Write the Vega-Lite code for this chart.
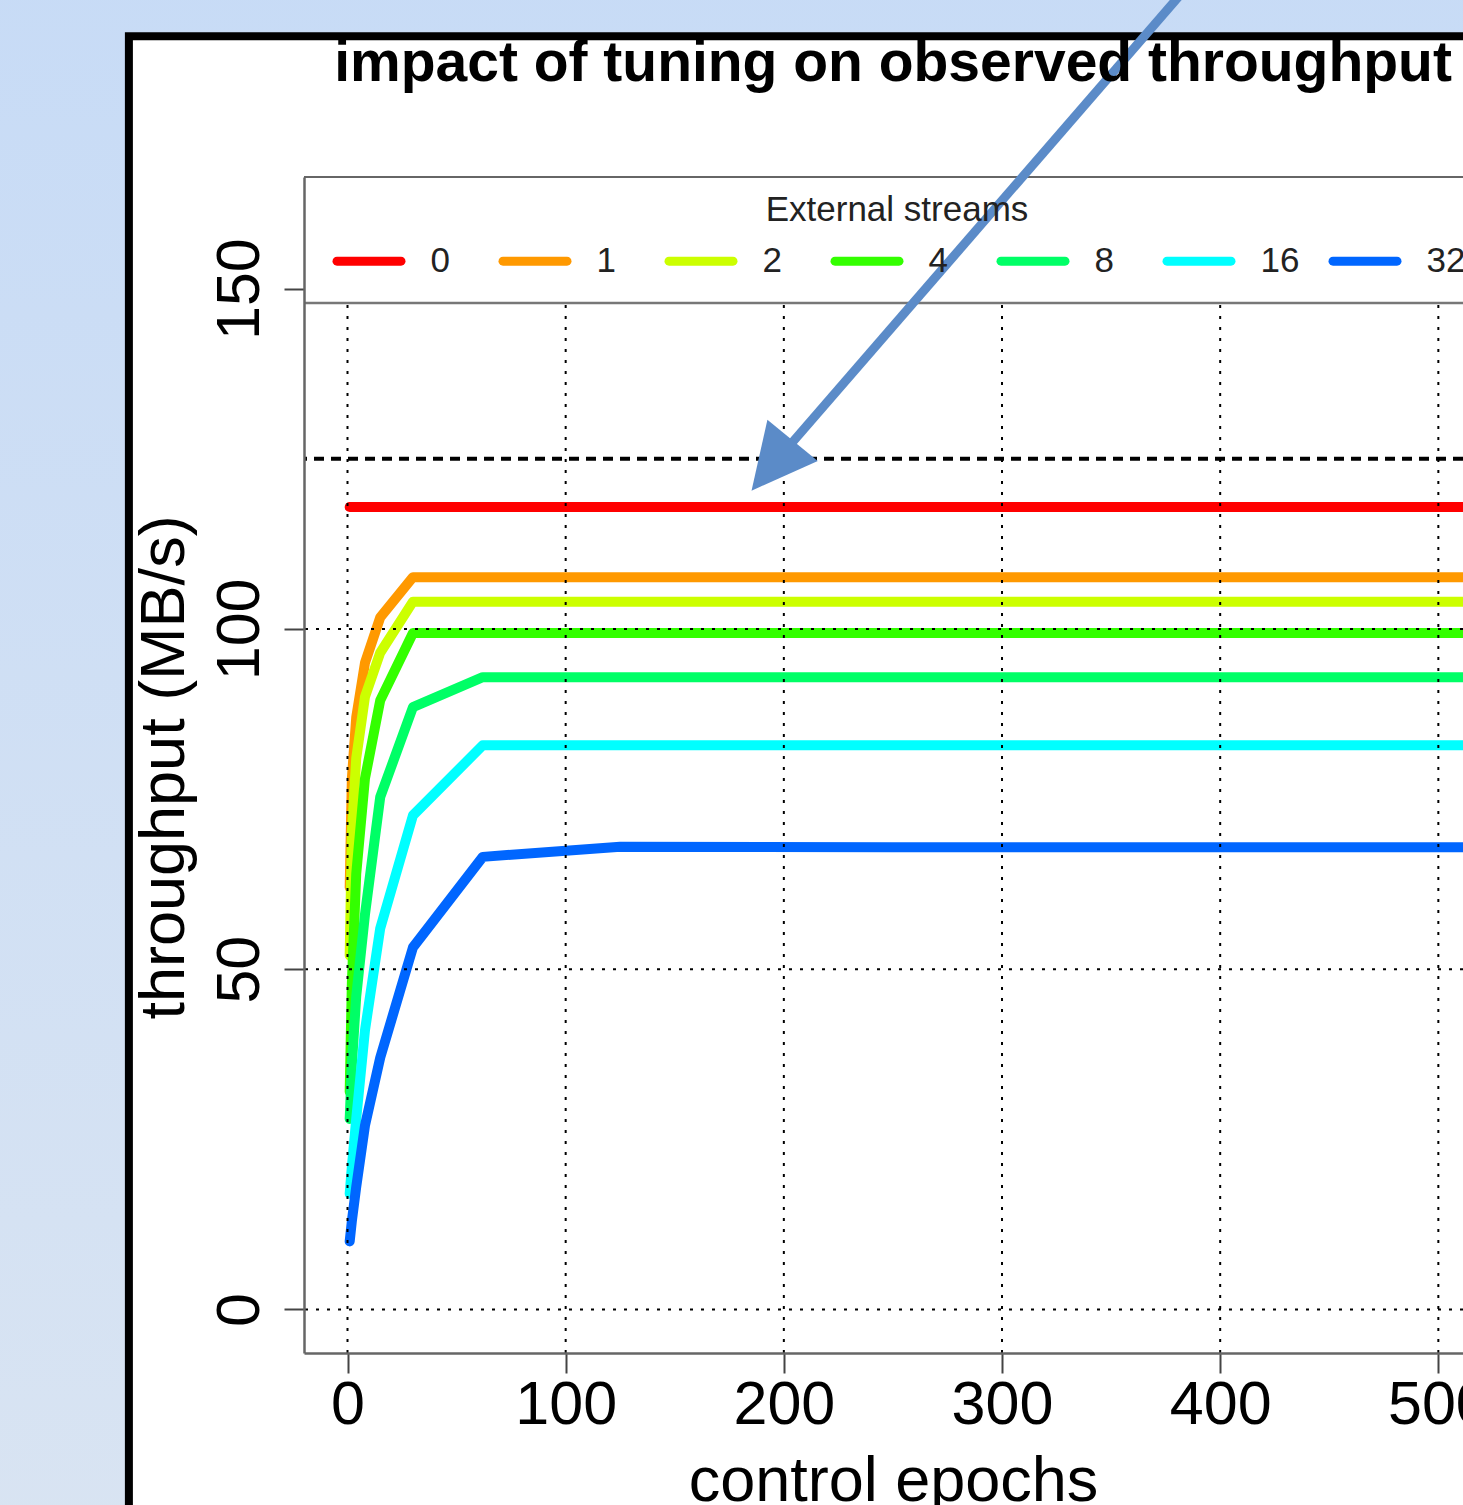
{
  "$schema": "https://vega.github.io/schema/vega-lite/v6.json",
  "width": 1159,
  "height": 1176,
  "autosize": {"type": "none"},
  "padding": {"left": 304, "top": 177, "right": 0, "bottom": 152},
  "background": "#CCDEF5",
  "config": {"view": {"stroke": null, "fill": null}, "font": "Liberation Sans"},
  "title": {
    "text": "impact of tuning on observed throughput",
    "anchor": "middle",
    "frame": "group",
    "font": "Liberation Sans",
    "fontSize": 57,
    "fontWeight": "bold",
    "color": "#000000",
    "baseline": "alphabetic",
    "offset": -189.7,
    "dx": 9.5,
    "limit": 2000
  },
  "datasets": {
    "lines": [
      {"s": 0, "e": 1, "t": 117.9}, {"s": 0, "e": 2, "t": 117.9}, {"s": 0, "e": 4, "t": 117.9}, {"s": 0, "e": 8, "t": 117.9}, {"s": 0, "e": 15, "t": 117.9}, {"s": 0, "e": 30, "t": 117.9}, {"s": 0, "e": 62, "t": 117.9}, {"s": 0, "e": 125, "t": 117.9}, {"s": 0, "e": 250, "t": 117.9}, {"s": 0, "e": 512, "t": 117.9},
      {"s": 1, "e": 1, "t": 62}, {"s": 1, "e": 2, "t": 78}, {"s": 1, "e": 4, "t": 87}, {"s": 1, "e": 8, "t": 95}, {"s": 1, "e": 15, "t": 101.7}, {"s": 1, "e": 30, "t": 107.6}, {"s": 1, "e": 62, "t": 107.6}, {"s": 1, "e": 125, "t": 107.6}, {"s": 1, "e": 250, "t": 107.6}, {"s": 1, "e": 512, "t": 107.6},
      {"s": 2, "e": 1, "t": 52}, {"s": 2, "e": 2, "t": 70}, {"s": 2, "e": 4, "t": 81}, {"s": 2, "e": 8, "t": 90}, {"s": 2, "e": 15, "t": 96.5}, {"s": 2, "e": 30, "t": 104.0}, {"s": 2, "e": 62, "t": 104.0}, {"s": 2, "e": 125, "t": 104.0}, {"s": 2, "e": 250, "t": 104.0}, {"s": 2, "e": 512, "t": 104.0},
      {"s": 4, "e": 1, "t": 32}, {"s": 4, "e": 2, "t": 48}, {"s": 4, "e": 4, "t": 64}, {"s": 4, "e": 8, "t": 78}, {"s": 4, "e": 15, "t": 89.5}, {"s": 4, "e": 30, "t": 99.4}, {"s": 4, "e": 62, "t": 99.4}, {"s": 4, "e": 125, "t": 99.4}, {"s": 4, "e": 250, "t": 99.4}, {"s": 4, "e": 512, "t": 99.4},
      {"s": 8, "e": 1, "t": 28}, {"s": 8, "e": 2, "t": 36}, {"s": 8, "e": 4, "t": 46}, {"s": 8, "e": 8, "t": 58}, {"s": 8, "e": 15, "t": 75.3}, {"s": 8, "e": 30, "t": 88.5}, {"s": 8, "e": 62, "t": 92.9}, {"s": 8, "e": 125, "t": 92.9}, {"s": 8, "e": 250, "t": 92.9}, {"s": 8, "e": 512, "t": 92.9},
      {"s": 16, "e": 1, "t": 17}, {"s": 16, "e": 2, "t": 21}, {"s": 16, "e": 4, "t": 28}, {"s": 16, "e": 8, "t": 41}, {"s": 16, "e": 15, "t": 56}, {"s": 16, "e": 30, "t": 72.6}, {"s": 16, "e": 62, "t": 82.9}, {"s": 16, "e": 125, "t": 82.9}, {"s": 16, "e": 250, "t": 82.9}, {"s": 16, "e": 512, "t": 82.9},
      {"s": 32, "e": 1, "t": 10}, {"s": 32, "e": 2, "t": 13}, {"s": 32, "e": 4, "t": 18}, {"s": 32, "e": 8, "t": 27}, {"s": 32, "e": 15, "t": 37}, {"s": 32, "e": 30, "t": 53.2}, {"s": 32, "e": 62, "t": 66.5}, {"s": 32, "e": 125, "t": 68.0}, {"s": 32, "e": 250, "t": 67.9}, {"s": 32, "e": 512, "t": 67.9}
    ],
    "vgrid": [{"g": 0}, {"g": 100}, {"g": 200}, {"g": 300}, {"g": 400}, {"g": 500}],
    "hgrid": [{"h": 0}, {"h": 50}, {"h": 100}]
  },
  "layer": [
    {
      "data": {"values": [{}]},
      "mark": {"type": "rect", "clip": false, "color": {"gradient": "linear", "x1": 0, "y1": 0, "x2": 0, "y2": 1, "stops": [{"offset": 0, "color": "#C7DBF6"}, {"offset": 1, "color": "#D9E4F2"}]}},
      "encoding": {
        "x": {"datum": -200, "type": "quantitative", "scale": {"domain": [-19.94, 511.3], "nice": false, "zero": false}},
        "x2": {"datum": 700},
        "y": {"datum": -40, "type": "quantitative", "scale": {"domain": [-6.4, 166.4], "nice": false, "zero": false}},
        "y2": {"datum": 200}
      }
    },
    {
      "data": {"values": [{}]},
      "mark": {"type": "rect", "clip": false, "fill": "#FFFFFF", "stroke": "#000000", "strokeWidth": 8},
      "encoding": {
        "x": {"datum": -100.2, "type": "quantitative", "scale": {"domain": [-19.94, 511.3], "nice": false, "zero": false}},
        "x2": {"datum": 700},
        "y": {"datum": -40, "type": "quantitative", "scale": {"domain": [-6.4, 166.4], "nice": false, "zero": false}},
        "y2": {"datum": 187.1}
      }
    },
    {
      "data": {"name": "lines"},
      "mark": {"type": "line", "clip": true, "strokeWidth": 10, "strokeCap": "round", "strokeJoin": "round"},
      "encoding": {
        "x": {
          "field": "e", "type": "quantitative",
          "scale": {"domain": [-19.94, 511.3], "nice": false, "zero": false},
          "axis": {
            "title": "control epochs", "values": [0, 100, 200, 300, 400, 500], "grid": false, "zindex": 1,
            "labelFont": "Liberation Sans", "labelFontSize": 61, "labelColor": "#000000", "labelBaseline": "alphabetic", "labelPadding": 50, "labelFlush": false, "labelOverlap": false,
            "tickSize": 20, "tickWidth": 2, "tickColor": "#444444", "domainColor": "#666666", "domainWidth": 2.5,
            "titleFont": "Liberation Sans", "titleFontSize": 63, "titleFontWeight": "normal", "titleColor": "#000000", "titleBaseline": "alphabetic", "titleX": 589, "titleY": 147, "titleAlign": "center", "titleLimit": 2000
          }
        },
        "y": {
          "field": "t", "type": "quantitative",
          "scale": {"domain": [-6.4, 166.4], "nice": false, "zero": false},
          "axis": {
            "title": "throughput (MB/s)", "values": [0, 50, 100, 150], "grid": false, "zindex": 1,
            "labelFont": "Liberation Sans", "labelFontSize": 61, "labelColor": "#000000", "labelAngle": 270, "labelAlign": "center", "labelBaseline": "alphabetic", "labelPadding": 26, "labelFlush": false, "labelOverlap": false,
            "tickSize": 20, "tickWidth": 2, "tickColor": "#444444", "domainColor": "#666666", "domainWidth": 2.5,
            "titleFont": "Liberation Sans", "titleFontSize": 63, "titleFontWeight": "normal", "titleColor": "#000000", "titleAngle": 270, "titleBaseline": "alphabetic", "titleAlign": "center", "titleX": -121, "titleY": 590, "titleLimit": 2000
          }
        },
        "color": {
          "field": "s", "type": "ordinal",
          "scale": {"domain": [0, 1, 2, 4, 8, 16, 32], "range": ["#FF0000", "#FF9900", "#CCFF00", "#33FF00", "#00FF66", "#00FFFF", "#0066FF"]},
          "legend": {
            "title": "External streams",
            "orient": "none", "legendX": 24, "legendY": 16.4,
            "direction": "horizontal", "columns": 7, "gridAlign": "all",
            "padding": 0, "columnPadding": 15,
            "titleOrient": "top", "titleAnchor": "middle", "titleFont": "Liberation Sans", "titleFontSize": 35, "titleFontWeight": "normal", "titleColor": "#222222", "titlePadding": 8, "titleBaseline": "top", "titleLimit": 2000,
            "labelFont": "Liberation Sans", "labelFontSize": 35, "labelColor": "#222222", "labelOffset": 37, "labelBaseline": "middle", "labelLimit": 500,
            "symbolType": "M-1.6,0H1.6", "symbolSize": 1600, "symbolStrokeWidth": 9, "symbolOffset": 16.5,
            "encode": {"symbols": {"update": {"strokeCap": {"value": "round"}}}}
          }
        }
      }
    },
    {
      "data": {"values": [{}]},
      "mark": {"type": "rule", "color": "#000000", "strokeWidth": 4, "strokeDash": [10, 7]},
      "encoding": {
        "y": {"datum": 125, "type": "quantitative", "scale": {"domain": [-6.4, 166.4], "nice": false, "zero": false}}
      }
    },
    {
      "data": {"name": "vgrid"},
      "mark": {"type": "rule", "color": "#000000", "strokeWidth": 2, "strokeDash": [3, 8]},
      "encoding": {
        "x": {"field": "g", "type": "quantitative", "scale": {"domain": [-19.94, 511.3], "nice": false, "zero": false}},
        "y": {"datum": -6.4, "type": "quantitative", "scale": {"domain": [-6.4, 166.4], "nice": false, "zero": false}},
        "y2": {"datum": 147.9}
      }
    },
    {
      "data": {"name": "hgrid"},
      "mark": {"type": "rule", "color": "#000000", "strokeWidth": 2, "strokeDash": [3, 8]},
      "encoding": {
        "y": {"field": "h", "type": "quantitative", "scale": {"domain": [-6.4, 166.4], "nice": false, "zero": false}}
      }
    },
    {
      "data": {"values": [{}]},
      "mark": {"type": "rule", "color": "#666666", "strokeWidth": 2},
      "encoding": {
        "y": {"datum": 166.4, "type": "quantitative", "scale": {"domain": [-6.4, 166.4], "nice": false, "zero": false}}
      }
    },
    {
      "data": {"values": [{}]},
      "mark": {"type": "rule", "color": "#777777", "strokeWidth": 2.5},
      "encoding": {
        "y": {"datum": 147.9, "type": "quantitative", "scale": {"domain": [-6.4, 166.4], "nice": false, "zero": false}}
      }
    },
    {
      "data": {"values": [{}]},
      "mark": {"type": "rule", "clip": false, "color": "#5B8BC8", "strokeWidth": 9},
      "encoding": {
        "x": {"datum": 381.5, "type": "quantitative", "scale": {"domain": [-19.94, 511.3], "nice": false, "zero": false}},
        "x2": {"datum": 202.8},
        "y": {"datum": 193.1, "type": "quantitative", "scale": {"domain": [-6.4, 166.4], "nice": false, "zero": false}},
        "y2": {"datum": 127.0}
      }
    },
    {
      "data": {"values": [{}]},
      "mark": {"type": "point", "clip": false, "shape": "M0,-1L1,1L-1,1Z", "size": 4225, "angle": 219.2, "filled": true, "opacity": 1, "color": "#5B8BC8"},
      "encoding": {
        "x": {"datum": 194.6, "type": "quantitative", "scale": {"domain": [-19.94, 511.3], "nice": false, "zero": false}},
        "y": {"datum": 124.0, "type": "quantitative", "scale": {"domain": [-6.4, 166.4], "nice": false, "zero": false}}
      }
    }
  ]
}
